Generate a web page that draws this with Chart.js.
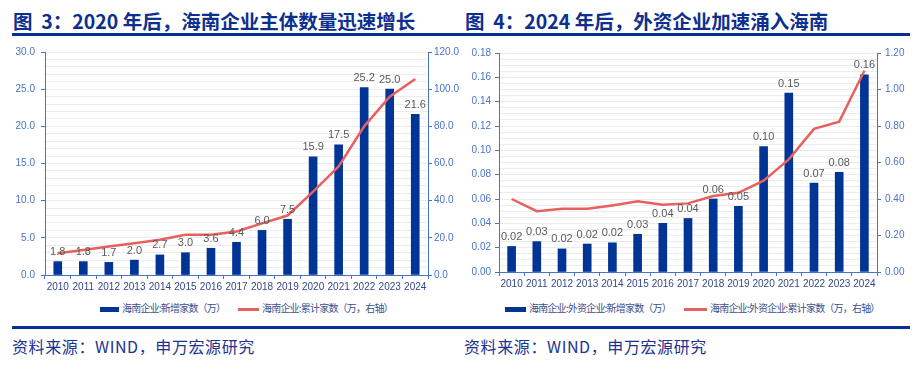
<!DOCTYPE html>
<html>
<head>
<meta charset="utf-8">
<script src="https://cdn.jsdelivr.net/npm/chart.js@4.4.1/dist/chart.umd.min.js"></script>
<style>
  html, body { margin: 0; padding: 0; background: #fff; }
  body { width: 921px; height: 369px; position: relative; overflow: hidden;
         font-family: "Noto Sans CJK SC", "Liberation Sans", sans-serif; }
  .title { position: absolute; top: 8px; font-size: 19.5px; font-weight: bold; color: #0d2f8e;
           line-height: 26px; white-space: nowrap; }
  .rule { position: absolute; height: 3px; background: #0a2f94; }
  .box { position: absolute; top: 40px; height: 255px; }
  .legend { position: absolute; top: 300px; font-size: 10px; color: #3b4f8c; white-space: nowrap;
            line-height: 16px; letter-spacing: -0.8px; }
  .legend span.sw { display: inline-block; vertical-align: middle; margin-right: 3px; }
  .legend span.it { position: absolute; }
  .foot { position: absolute; top: 335px; font-size: 16px; color: #1c3290; line-height: 22px;
          white-space: nowrap; letter-spacing: 0.6px; }
</style>
</head>
<body>
<div class="title" style="left:13px">图&nbsp;&nbsp;3：2020 年后，海南企业主体数量迅速增长</div>
<div class="title" style="left:465px">图&nbsp;&nbsp;4：2024 年后，外资企业加速涌入海南</div>
<div class="rule" style="left:12px; width:448px; top:33px"></div>
<div class="rule" style="left:460px; width:450px; top:33px"></div>

<div class="box" style="left:0; width:460px"><canvas id="c1"></canvas></div>
<div class="box" style="left:460px; width:461px"><canvas id="c2"></canvas></div>

<div class="legend">
  <span class="it" style="left:100px"><span class="sw" style="width:19px;height:5px;background:#003595"></span>海南企业:新增家数（万）</span>
  <span class="it" style="left:238px"><span class="sw" style="width:21px;height:3px;background:#e8605e"></span>海南企业:累计家数（万，右轴）</span>
  <span class="it" style="left:505px"><span class="sw" style="width:21px;height:5px;background:#003595"></span>海南企业:外资企业:新增家数（万）</span>
  <span class="it" style="left:684px"><span class="sw" style="width:23px;height:3px;background:#e8605e"></span>海南企业:外资企业:累计家数（万，右轴）</span>
</div>

<div class="rule" style="left:12px; width:898px; top:326px"></div>
<div class="foot" style="left:12px">资料来源：WIND，申万宏源研究</div>
<div class="foot" style="left:464px">资料来源：WIND，申万宏源研究</div>

<script>
const years = ['2010','2011','2012','2013','2014','2015','2016','2017','2018','2019','2020','2021','2022','2023','2024'];

// 图3：海南企业
const newFirms = [1.8, 1.8, 1.7, 2.0, 2.7, 3.0, 3.6, 4.4, 6.0, 7.5, 15.9, 17.5, 25.2, 25.0, 21.6];
const totalFirms = [11.7, 13.5, 15.3, 17.1, 19.0, 21.6, 21.6, 23.4, 27.8, 32.0, 44.9, 58.4, 80.0, 96.0, 105.5];

// 图4：外资企业
const newForeign = [0.021, 0.025, 0.019, 0.023, 0.024, 0.031, 0.040, 0.044, 0.060, 0.054, 0.103, 0.147, 0.073, 0.082, 0.162];
const totalForeign = [0.40, 0.333, 0.346, 0.346, 0.365, 0.387, 0.368, 0.376, 0.416, 0.434, 0.50, 0.617, 0.784, 0.824, 1.103];

const BLUE = '#003595';
const RED = '#e8605e';
const AXIS = '#4a72c8';
const TICK_TXT = '#4a72c8';
const X_TXT = '#33488a';
const GRID = '#ececec';
const FONT = "'Liberation Sans', Arial, sans-serif";

const barLabels = {
    id: 'barLabels',
    afterDatasetsDraw(chart, args, opts) {
        const c = chart.ctx;
        const meta = chart.getDatasetMeta(0);
        c.save();
        c.font = `11px ${FONT}`;
        c.fillStyle = '#5a5a5a';
        c.textAlign = 'center';
        c.textBaseline = 'bottom';
        meta.data.forEach((bar, i) => {
            const v = chart.data.datasets[0].data[i];
            c.fillText(v.toFixed(opts.digits), bar.x, bar.y - 4);
        });
        c.restore();
    }
};

function makeChart(id, cfg) {
    const majorEvery = cfg.leftMajor;
    return new Chart(document.getElementById(id), {
        type: 'bar',
        data: {
            labels: years,
            datasets: [
                {
                    type: 'bar', data: cfg.bars, backgroundColor: BLUE,
                    barThickness: 8, yAxisID: 'y', order: 2,
                },
                {
                    type: 'line', data: cfg.line, borderColor: RED, borderWidth: 2.5,
                    pointRadius: 0, tension: 0, yAxisID: 'y1', order: 1,
                },
            ],
        },
        options: {
            responsive: true,
            maintainAspectRatio: false,
            animation: false,
            layout: { padding: { top: cfg.padTop, left: 0, right: 0, bottom: 0 } },
            plugins: {
                legend: { display: false },
                tooltip: { enabled: false },
                barLabels: { digits: cfg.digits },
            },
            scales: {
                x: {
                    grid: { offset: true, drawOnChartArea: false, tickLength: 4, color: AXIS },
                    border: { color: AXIS, width: 1 },
                    ticks: { color: X_TXT, font: { size: 10, family: FONT }, padding: 2, maxRotation: 0, autoSkip: false },
                    afterFit: s => { s.height = cfg.xHeight; },
                },
                y: {
                    position: 'left',
                    min: 0, max: cfg.leftMax,
                    ticks: {
                        stepSize: cfg.leftMinor,
                        autoSkip: false,
                        color: TICK_TXT, font: { size: 10, family: FONT }, padding: cfg.leftPad,
                        callback: (v) => {
                            const k = Math.round(v / cfg.leftMinor);
                            const m = Math.round(majorEvery / cfg.leftMinor);
                            return k % m === 0 ? v.toFixed(cfg.leftDigits) : '';
                        },
                    },
                    grid: {
                        color: ctx => ctx.tick && ctx.tick.value === 0 ? 'rgba(0,0,0,0)' : GRID,
                        tickColor: ctx => {
                            const k = Math.round(ctx.tick.value / cfg.leftMinor);
                            const m = Math.round(majorEvery / cfg.leftMinor);
                            return k % m === 0 ? AXIS : 'rgba(0,0,0,0)';
                        },
                        tickLength: 4,
                    },
                    border: { color: AXIS, width: 1 },
                    afterFit: s => { s.width = cfg.leftW; },
                },
                y1: {
                    position: 'right',
                    min: 0, max: cfg.rightMax,
                    ticks: {
                        stepSize: cfg.rightStep,
                        color: TICK_TXT, font: { size: 10, family: FONT }, padding: cfg.rightPad,
                        callback: v => v.toFixed(cfg.rightDigits),
                    },
                    grid: { drawOnChartArea: false, color: AXIS, tickLength: 4 },
                    border: { color: AXIS, width: 1 },
                    afterFit: s => { s.width = cfg.rightW; },
                },
            },
        },
        plugins: [barLabels],
    });
}

makeChart('c1', {
    bars: newFirms, line: totalFirms, digits: 1,
    leftMax: 30, leftMinor: 1, leftMajor: 5, leftDigits: 1,
    rightMax: 120, rightStep: 20, rightDigits: 1,
    leftW: 45, rightW: 32, padTop: 12, xHeight: 20, leftPad: 6, rightPad: 2,
});

makeChart('c2', {
    bars: newForeign, line: totalForeign, digits: 2,
    leftMax: 0.18, leftMinor: 0.005, leftMajor: 0.02, leftDigits: 2,
    rightMax: 1.2, rightStep: 0.2, rightDigits: 2,
    leftW: 39, rightW: 44, padTop: 13, xHeight: 23, leftPad: 4, rightPad: 4,
});
</script>
</body>
</html>
